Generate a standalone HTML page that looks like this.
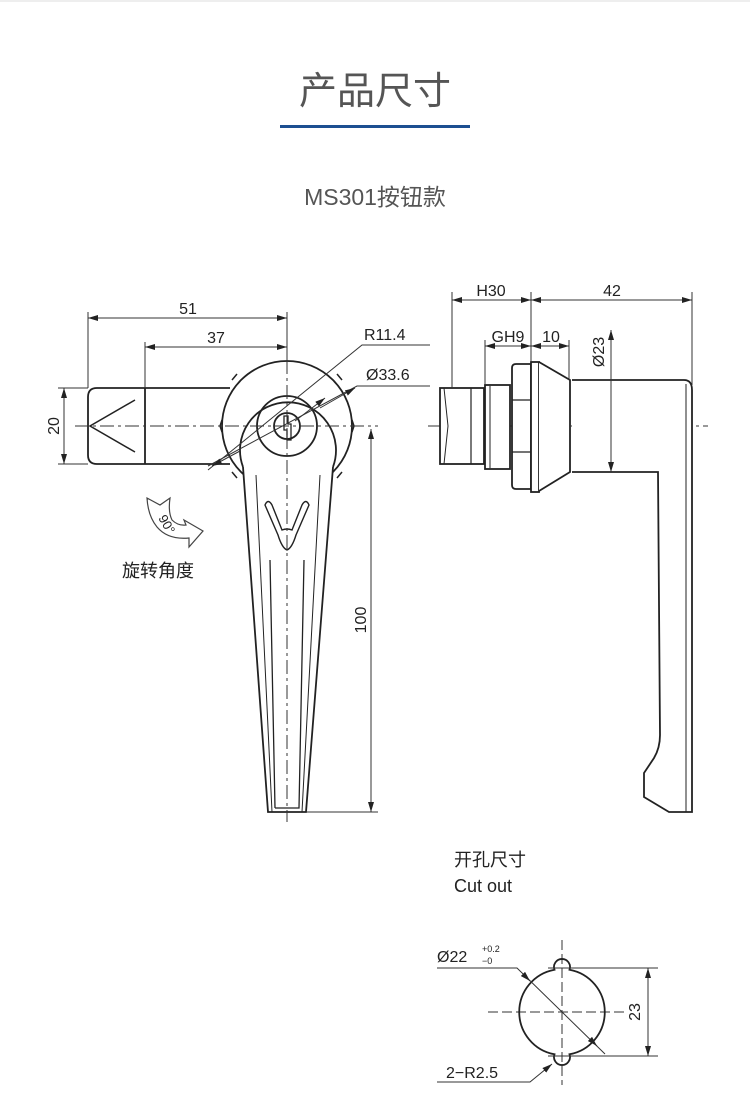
<!DOCTYPE html>
<html><head><meta charset="utf-8"><style>
html,body{margin:0;padding:0;background:#fff;width:750px;height:1103px;overflow:hidden}
svg{display:block}
text{font-family:"Liberation Sans","Noto Sans CJK SC",sans-serif}
</style></head><body>
<svg width="750" height="1103" viewBox="0 0 750 1103" xmlns="http://www.w3.org/2000/svg">
<defs>
<marker id="a" viewBox="0 0 10 6" refX="10" refY="3" markerWidth="10" markerHeight="6" orient="auto-start-reverse" markerUnits="userSpaceOnUse"><path d="M0,0L10,3L0,6z" fill="#222"/></marker>
</defs>
<line x1="0" y1="1" x2="750" y2="1" stroke="#ddd"/>
<text x="375" y="104" text-anchor="middle" font-size="38" fill="#555">产品尺寸</text>
<rect x="280" y="125" width="190" height="3" fill="#1d4f91"/>
<text x="375" y="205" text-anchor="middle" font-size="23" fill="#555">MS301按钮款</text>

<g fill="none" stroke="#222" stroke-width="1.8">
<path d="M230,388H97Q88,388 88,397V455Q88,464 97,464H230"/>
<line x1="145" y1="388" x2="145" y2="464"/>
<path d="M135,400L90,426L135,452" stroke-width="1.5"/>
<circle cx="287" cy="426" r="65" fill="#fff"/>
<path d="M237,374L232,380M337,374L342,380M222,420L220,426L222,432M352,420L354,426L352,432M237,478L232,472M337,478L342,472" stroke-width="1.5"/>
<path d="M243,467L268,812H306L333,467" fill="#fff"/>
<path d="M243,467A48,48 0 1 1 333,467"/>
<circle cx="287" cy="426" r="30"/>
<circle cx="287" cy="426" r="13"/>
<path d="M284,416h4v8h3v16h-4v-10h-3z" stroke-width="1.3"/>
<path d="M272,812L256,475M302,812L320,475" stroke-width="1"/>
<path d="M275,808H299L304,560M275,808L270,560" stroke-width="1.3"/>
<path d="M265,505Q268,498 272,505L282,530Q287,528 292,530L302,505Q306,498 309,505L296,535Q292,548 287,550Q282,548 278,535Z" stroke-width="1.4"/>
</g>
<g stroke="#333" stroke-width="1" stroke-dasharray="14,4,3,4" fill="none">
<line x1="75" y1="426" x2="378" y2="426"/>
<line x1="287" y1="360" x2="287" y2="822"/>
<line x1="428" y1="426" x2="708" y2="426"/>
</g>
<g stroke="#333" stroke-width="1" fill="none">
<line x1="88" y1="312" x2="88" y2="388"/>
<line x1="145" y1="342" x2="145" y2="388"/>
<line x1="287" y1="312" x2="287" y2="360"/>
<line x1="88" y1="318" x2="287" y2="318" marker-start="url(#a)" marker-end="url(#a)"/>
<line x1="145" y1="347" x2="287" y2="347" marker-start="url(#a)" marker-end="url(#a)"/>
<line x1="58" y1="388" x2="88" y2="388"/>
<line x1="58" y1="464" x2="88" y2="464"/>
<line x1="64" y1="388" x2="64" y2="464" marker-start="url(#a)" marker-end="url(#a)"/>
<line x1="306" y1="812" x2="378" y2="812"/>
<line x1="371" y1="429" x2="371" y2="812" marker-start="url(#a)" marker-end="url(#a)"/>
<path d="M208,470L362,345H430"/>
<line x1="295" y1="421" x2="325" y2="398" marker-end="url(#a)"/>
<path d="M208,466L357,386H430"/>
<line x1="240" y1="451" x2="212" y2="466" marker-end="url(#a)"/>
<line x1="320" y1="408" x2="355" y2="388" marker-end="url(#a)"/>
</g>
<g font-size="16" fill="#222">
<text x="188" y="314" text-anchor="middle">51</text>
<text x="216" y="343" text-anchor="middle">37</text>
<text x="364" y="340">R11.4</text>
<text x="366" y="380">Ø33.6</text>
<text transform="translate(59,426) rotate(-90)" text-anchor="middle">20</text>
<text transform="translate(366,620) rotate(-90)" text-anchor="middle">100</text>
<text x="122" y="577" font-size="18">旋转角度</text>
</g>
<path d="M147,498L160,505L170,498Q168,512 172,520Q178,526 186,525L184,520L203,531L189,547L189,538Q168,540 157,527Q148,516 147,498Z" fill="#fff" stroke="#444" stroke-width="1.2"/>
<text transform="translate(158,518) rotate(60)" font-size="13" fill="#222">90°</text>

<g fill="#fff" stroke="#222" stroke-width="1.8">
<path d="M572,380H684Q692,380 692,390V812H669L644,797V773L654,758Q660,748 660,735L658,472H572"/>
<line x1="686" y1="384" x2="686" y2="812" stroke-width="1"/>
<rect x="440" y="388" width="44" height="76"/>
<line x1="444" y1="388" x2="448" y2="426" stroke-width="1"/><line x1="448" y1="426" x2="444" y2="464" stroke-width="1"/>
<line x1="471" y1="388" x2="471" y2="464" stroke-width="1.2"/>
<rect x="485" y="385" width="25" height="84"/>
<line x1="490" y1="386" x2="490" y2="468" stroke-width="1"/>
<path d="M512,368Q512,364 516,364H531V489H516Q512,489 512,485Z"/>
<path d="M512,400H531M512,452H531" stroke-width="1.2"/>
<rect x="531" y="362" width="8" height="130"/>
<path d="M539,362L570,380V472L539,491"/>
</g>
<g stroke="#333" stroke-width="1" fill="none">
<line x1="452" y1="292" x2="452" y2="388"/>
<line x1="531" y1="292" x2="531" y2="362"/>
<line x1="692" y1="292" x2="692" y2="385"/>
<line x1="452" y1="300" x2="531" y2="300" marker-start="url(#a)" marker-end="url(#a)"/>
<line x1="531" y1="300" x2="692" y2="300" marker-start="url(#a)" marker-end="url(#a)"/>
<line x1="485" y1="340" x2="485" y2="385"/>
<line x1="569" y1="340" x2="569" y2="380"/>
<line x1="485" y1="346" x2="531" y2="346" marker-start="url(#a)" marker-end="url(#a)"/>
<line x1="531" y1="346" x2="569" y2="346" marker-start="url(#a)" marker-end="url(#a)"/>
<line x1="611" y1="330" x2="611" y2="472" marker-start="url(#a)" marker-end="url(#a)"/>
</g>
<g font-size="16" fill="#222">
<text x="491" y="296" text-anchor="middle">H30</text>
<text x="612" y="296" text-anchor="middle">42</text>
<text x="508" y="342" text-anchor="middle">GH9</text>
<text x="551" y="342" text-anchor="middle">10</text>
<text transform="translate(604,352) rotate(-90)" text-anchor="middle">Ø23</text>
<text x="454" y="866" font-size="18">开孔尺寸</text>
<text x="454" y="892" font-size="18">Cut out</text>
</g>

<g stroke="#333" stroke-width="1" fill="none">
<line x1="562" y1="940" x2="562" y2="1085" stroke-dasharray="10,4"/>
<line x1="488" y1="1012" x2="625" y2="1012" stroke-dasharray="10,4"/>
</g>
<path d="M554.5,969.7A8,8 0 1 1 569.5,969.7A43,43 0 0 1 569.5,1054.3A8,8 0 1 1 554.5,1054.3A43,43 0 0 1 554.5,969.7Z" fill="none" stroke="#222" stroke-width="1.8"/>
<g stroke="#333" stroke-width="1" fill="none">
<line x1="548" y1="968" x2="658" y2="968"/>
<line x1="548" y1="1056" x2="658" y2="1056"/>
<line x1="648" y1="968" x2="648" y2="1056" marker-start="url(#a)" marker-end="url(#a)"/>
<path d="M437,968H517L605,1054"/>
<line x1="525" y1="976" x2="530" y2="981" marker-end="url(#a)"/>
<line x1="592" y1="1041" x2="597" y2="1046" marker-end="url(#a)"/>
<path d="M437,1082H530L552,1064" marker-end="url(#a)"/>
</g>
<g font-size="16" fill="#222">
<text x="437" y="962">Ø22</text>
<text x="482" y="952" font-size="9">+0.2</text>
<text x="482" y="964" font-size="9">−0</text>
<text x="446" y="1078">2−R2.5</text>
<text transform="translate(640,1012) rotate(-90)" text-anchor="middle">23</text>
</g>
</svg>
</body></html>
